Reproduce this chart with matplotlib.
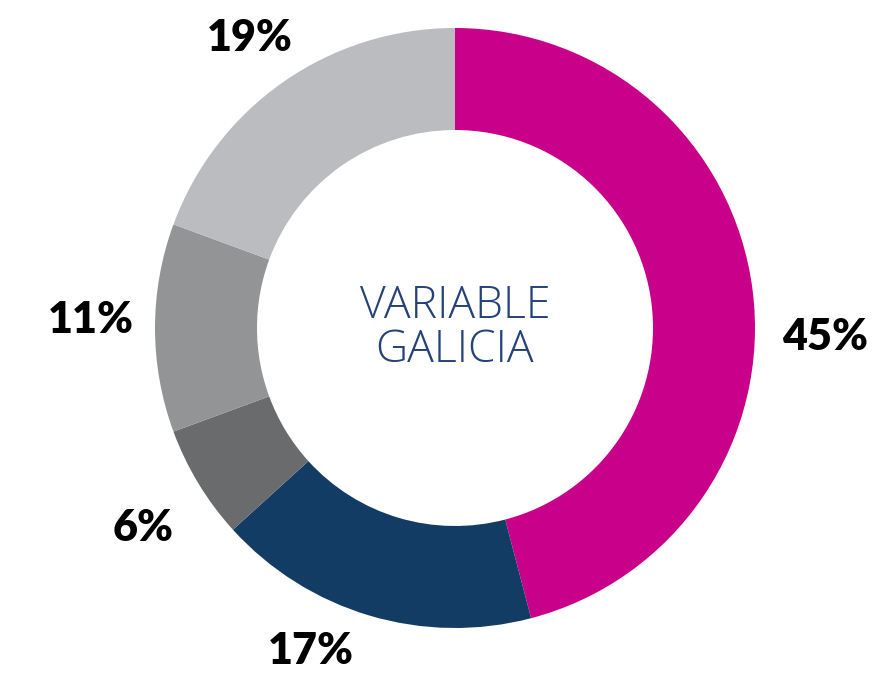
import matplotlib.pyplot as plt

# share of each segment (clockwise from the top)
labels = ["45%", "17%", "6%", "11%", "19%"]
values = [45, 17, 6, 11, 19]
colors = ["#C8008A", "#123C63", "#6A6B6D", "#939496", "#BBBCBF"]
center_text = "VARIABLE\nGALICIA"

# label anchor points in pixel space (x, y from top)
label_pos = [(825, 337), (311, 651), (143, 528), (91, 320), (250, 38)]

W, H = 892, 677
fig = plt.figure(figsize=(W / 100, H / 100), dpi=100)
ax = fig.add_axes([0, 0, 1, 1])

cx, cy, r = 455, H - 328, 300
ax.pie(
    values,
    colors=colors,
    startangle=90,
    counterclock=False,
    center=(cx, cy),
    radius=r,
    wedgeprops=dict(width=r * 0.34, linewidth=0),
    frame=True,
)
ax.set_xlim(0, W)
ax.set_ylim(0, H)
ax.set_aspect("equal")
ax.axis("off")

for lab, (x, y) in zip(labels, label_pos):
    ax.text(x, H - y, lab, ha="center", va="center",
            fontsize=31, fontweight="heavy", family="Lato", color="black")

ax.text(cx, H - 329, center_text, ha="center", va="center",
        fontsize=32, fontweight="light", family="Open Sans", color="#24427A",
        linespacing=0.98)

fig.savefig("out.png", dpi=100)
